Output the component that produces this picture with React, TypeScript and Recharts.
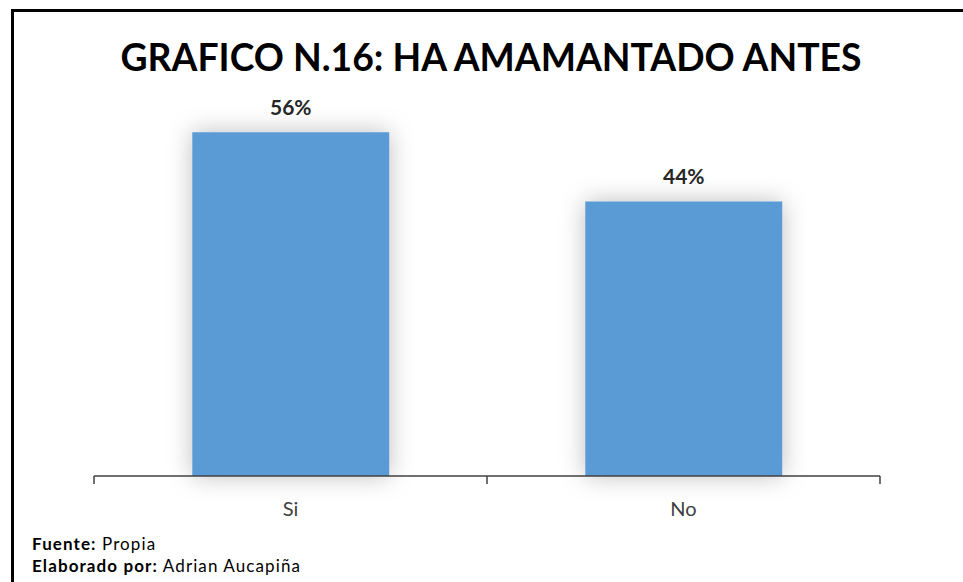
import React from 'react';
import { BarChart, Bar, XAxis, YAxis, LabelList } from 'recharts';

const categories: string[] = ['Si', 'No'];
const percentValues: number[] = [55.6, 44.4];
const chartTitle = 'GRAFICO N.16: HA AMAMANTADO ANTES';
const sourceLabel = 'Fuente:';
const sourceText = ' Propia';
const authorLabel = 'Elaborado por:';
const authorText = ' Adrian Aucapiña';

const data = categories.map((c, i) => ({ name: c, value: percentValues[i] }));

const W = 963;
const H = 582;
const PLOT_LEFT = 94;
const PLOT_RIGHT = 880;
const PLOT_TOP = 105;
const PLOT_BOTTOM = 476;
const XAXIS_H = 50;
const FONT = 'Lato, "Open Sans", sans-serif';

const halfBand = (PLOT_RIGHT - PLOT_LEFT) / categories.length / 2;

const AxisTick = (props: any) => {
  const { x, y, payload, index } = props;
  return (
    <g>
      {index === 0 && (
        <line x1={x - halfBand} x2={x - halfBand} y1={y} y2={y + 8} stroke="#404040" strokeWidth={1.5} />
      )}
      <line x1={x + halfBand} x2={x + halfBand} y1={y} y2={y + 8} stroke="#404040" strokeWidth={1.5} />
      <text x={x} y={y + 40} textAnchor="middle" fontFamily={FONT} fontSize={20} fill="#404040">
        {payload.value}
      </text>
    </g>
  );
};

const GlowBar = (props: any) => {
  const { x, y, width, height, fill } = props;
  return (
    <g>
      <rect
        x={x}
        y={y}
        width={width}
        height={height}
        fill="#ffffff"
        style={{ filter: 'drop-shadow(0 0 12px rgba(0,0,0,0.26))' }}
      />
      <rect x={x} y={y} width={width} height={height} fill={fill} />
    </g>
  );
};

const ValueLabel = (props: any) => {
  const { x, y, width, value } = props;
  return (
    <text
      x={x + width / 2}
      y={y - 17}
      textAnchor="middle"
      fontFamily={FONT}
      fontWeight={700}
      fontSize={21}
      fill="#262626"
    >
      {`${Math.round(value)}%`}
    </text>
  );
};

const footerStyle: React.CSSProperties = {
  position: 'absolute',
  left: 32,
  fontSize: 17,
  lineHeight: '16px',
  letterSpacing: 1.1,
  color: '#000',
  whiteSpace: 'nowrap',
};

export default function App() {
  return (
    <div
      style={{
        position: 'absolute',
        left: 0,
        top: 0,
        width: W,
        height: H,
        background: '#ffffff',
        overflow: 'hidden',
        fontFamily: FONT,
      }}
    >
      <div style={{ position: 'absolute', left: 11, top: 9, width: W - 11, height: 3, background: '#000' }} />
      <div style={{ position: 'absolute', left: 11, top: 9, width: 3, height: H - 9, background: '#000' }} />
      <BarChart
        width={W}
        height={H}
        data={data}
        margin={{ top: PLOT_TOP, right: W - PLOT_RIGHT, left: PLOT_LEFT, bottom: H - PLOT_BOTTOM - XAXIS_H }}
        barCategoryGap="25%"
      >
        <XAxis
          dataKey="name"
          height={XAXIS_H}
          tickLine={false}
          tickSize={0}
          tickMargin={0}
          axisLine={{ stroke: '#404040', strokeWidth: 1.5 }}
          tick={<AxisTick />}
          interval={0}
        />
        <YAxis hide domain={[0, 60]} />
        <Bar dataKey="value" fill="#5B9BD5" isAnimationActive={false} shape={<GlowBar />}>
          <LabelList dataKey="value" content={<ValueLabel />} />
        </Bar>
      </BarChart>
      <div
        style={{
          position: 'absolute',
          left: 0,
          top: 31,
          width: 982,
          textAlign: 'center',
          fontFamily: FONT,
          fontWeight: 700,
          fontSize: 37.3,
          lineHeight: '52px',
          color: '#000',
          whiteSpace: 'nowrap',
        }}
      >
        {chartTitle}
      </div>
      <div style={{ ...footerStyle, top: 536 }}>
        <b>{sourceLabel}</b>
        {sourceText}
      </div>
      <div style={{ ...footerStyle, top: 558 }}>
        <b>{authorLabel}</b>
        {authorText}
      </div>
    </div>
  );
}
